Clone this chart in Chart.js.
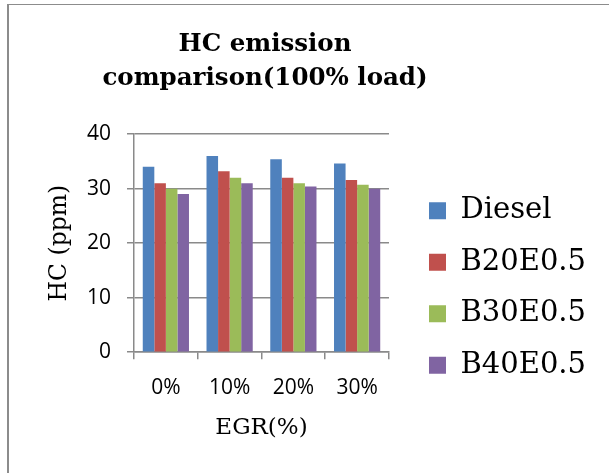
<!DOCTYPE html>
<html>
<head>
<meta charset="utf-8">
<script src="https://cdn.jsdelivr.net/npm/chart.js@4.4.1/dist/chart.umd.min.js"></script>
<style>
  html, body { margin: 0; padding: 0; background: #fff; }
  #wrap { position: relative; width: 609px; height: 473px; overflow: hidden; }
  #frame { position: absolute; left: 7px; top: 4px; width: 700px; height: 600px;
           border-left: 2px solid #8c8c8c; border-top: 1px solid #8c8c8c; }
  canvas { position: absolute; left: 0; top: 0; }
</style>
</head>
<body>
<div id="wrap">
  <div id="frame"></div>
  <canvas id="c" width="609" height="473"></canvas>
</div>
<script>
const categories = ['0%', '10%', '20%', '30%'];
const seriesNames = ['Diesel', 'B20E0.5', 'B30E0.5', 'B40E0.5'];
const diesel = [34.0, 36.0, 35.4, 34.6];
const b20e05 = [31.0, 33.2, 32.0, 31.6];
const b30e05 = [30.0, 32.0, 31.0, 30.7];
const b40e05 = [29.0, 31.0, 30.4, 30.0];
const yTicks = [0, 10, 20, 30, 40];
const colors = ['#4F81BD', '#C0504D', '#9BBB59', '#8064A2'];

const seriesValues = [diesel, b20e05, b30e05, b40e05];
const serif = "'DejaVu Serif', serif";
const sans = "'Open Sans', 'Liberation Sans', sans-serif";

// nudge the title and legend blocks to where the reference places them
const blockShift = {
  id: 'blockShift',
  afterLayout(chart) {
    const t = chart.titleBlock;
    if (t) { t.left -= 51; t.right -= 51; }
    const l = chart.legend;
    if (l) { l.top += 67; l.bottom += 67; }
  }
};

new Chart(document.getElementById('c'), {
  type: 'bar',
  data: {
    labels: categories,
    datasets: seriesNames.map((n, i) => ({
      label: n,
      data: seriesValues[i],
      backgroundColor: colors[i],
      borderWidth: 0,
      categoryPercentage: 0.725,
      barPercentage: 1.0
    }))
  },
  plugins: [blockShift],
  options: {
    responsive: false,
    animation: false,
    devicePixelRatio: 1,
    layout: { padding: { left: 36, right: 13, top: 0, bottom: 31 } },
    plugins: {
      tooltip: { enabled: false },
      title: {
        display: true,
        text: ['HC emission', 'comparison(100% load)'],
        color: '#000',
        font: { family: serif, size: 24.5, weight: 'bold', lineHeight: 1.39 },
        padding: { top: 28, bottom: 38 }
      },
      legend: {
        position: 'right',
        maxWidth: 400,
        labels: {
          color: '#000',
          font: { family: serif, size: 29 },
          boxWidth: 17,
          boxHeight: 17,
          padding: 22.5
        }
      }
    },
    scales: {
      x: {
        grid: { display: true, drawOnChartArea: false, offset: true, tickLength: 7, color: '#8a8a8a', lineWidth: 1.5 },
        border: { display: true, color: '#8a8a8a', width: 1.5 },
        ticks: { color: '#000', font: { family: sans, size: 21 }, padding: 16 },
        title: { display: true, text: 'EGR(%)', color: '#000', font: { family: serif, size: 23 }, padding: { top: -2, bottom: 0 } }
      },
      y: {
        min: 0, max: 40,
        afterBuildTicks: s => { s.ticks = yTicks.map(v => ({ value: v })); },
        afterFit: s => { s.width = 98; },
        grid: { color: '#8a8a8a', lineWidth: 1.5, tickLength: 7 },
        border: { display: true, color: '#8a8a8a', width: 1.5 },
        ticks: { color: '#000', font: { family: sans, size: 21 }, padding: 16 },
        title: { display: true, text: 'HC (ppm)', color: '#000', font: { family: serif, size: 23.5 }, padding: { top: 10, bottom: 0 } }
      },
      yR: {
        position: 'right',
        display: true,
        min: 0, max: 40,
        afterFit: s => { s.width = 17.5; },
        grid: { display: false, drawOnChartArea: false },
        border: { display: false },
        ticks: { display: false }
      }
    }
  }
});
</script>
</body>
</html>
